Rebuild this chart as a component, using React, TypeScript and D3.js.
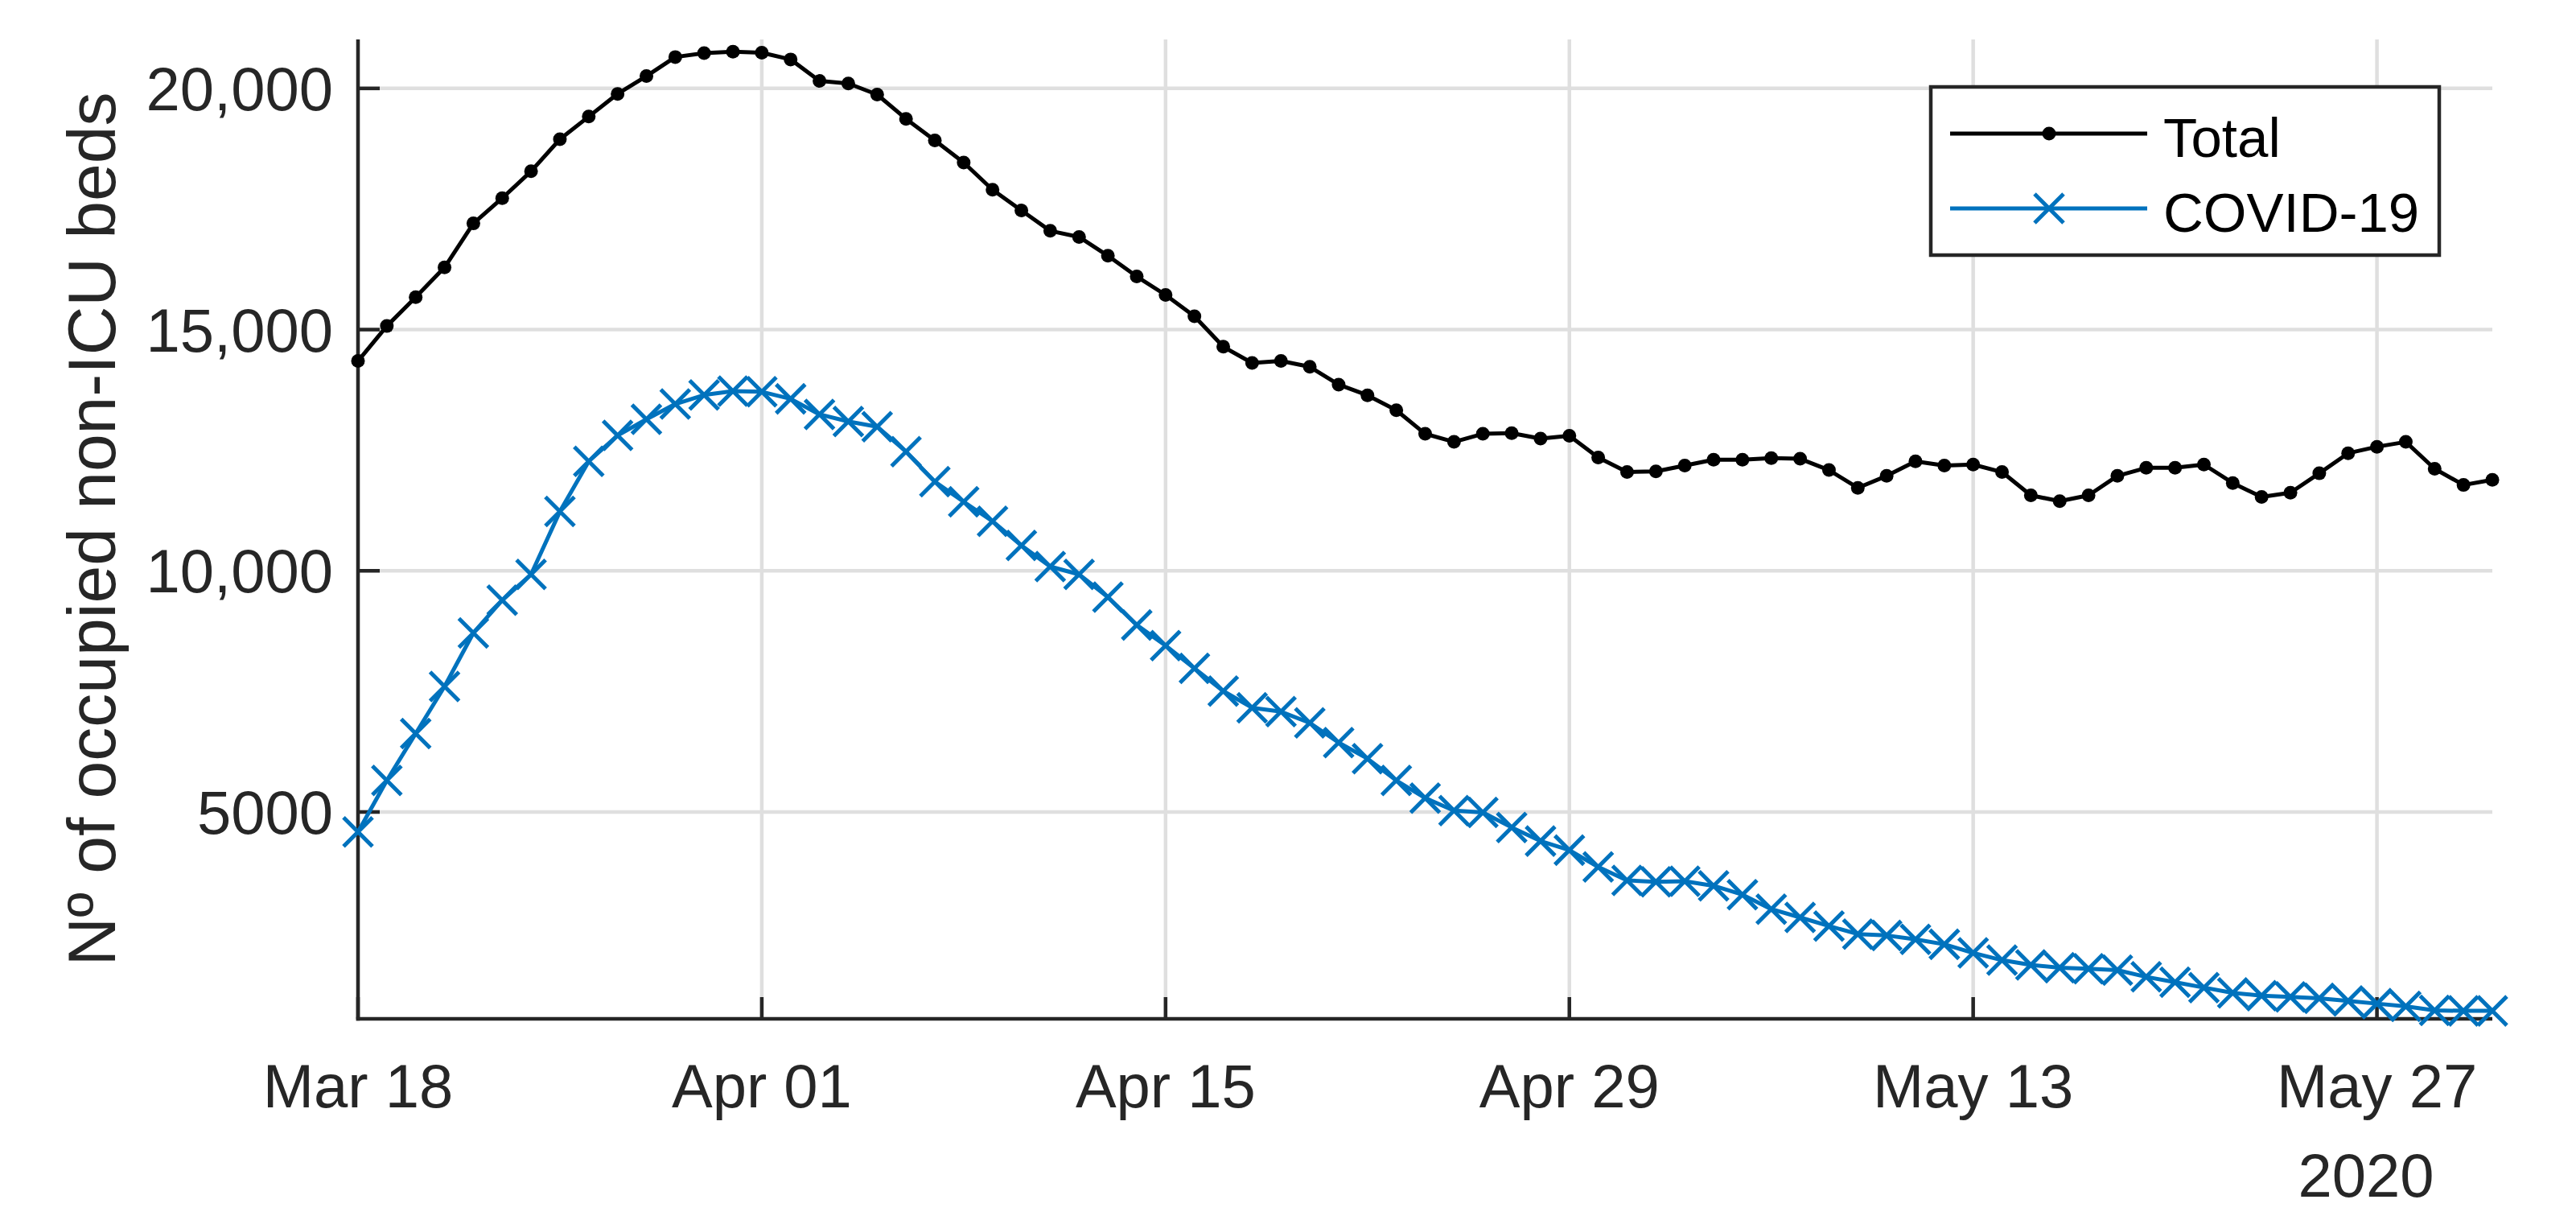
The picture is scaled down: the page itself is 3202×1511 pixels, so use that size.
import React from "react";
import * as d3 from "d3";

const startDate = "2020-03-18";
const endDate = "2020-05-31";

const totalBeds = [
  14349, 15074, 15671, 16289, 17201, 17725, 18282, 18946, 19416, 19886,
  20255, 20650, 20730, 20760, 20740, 20600, 20154, 20101, 19872, 19369,
  18920, 18463, 17899, 17470, 17047, 16920, 16530, 16101, 15718, 15275,
  14645, 14309, 14349, 14229, 13859, 13638, 13329, 12839, 12672, 12839,
  12853, 12739, 12799, 12350, 12047, 12060, 12182, 12302, 12302, 12336,
  12322, 12088, 11719, 11967, 12269, 12180, 12202, 12047, 11564, 11443,
  11564, 11967, 12135, 12135, 12202, 11819, 11531, 11618, 12021, 12437,
  12571, 12672, 12115, 11779, 11886,
];

const covidBeds = [
  4586, 5654, 6627, 7601, 8712, 9391, 9925, 11229, 12269, 12806,
  13141, 13457, 13645, 13725, 13711, 13564, 13242, 13094, 12987, 12470,
  11846, 11430, 11027, 10524, 10088, 9925, 9454, 8876, 8449, 7978,
  7506, 7161, 7079, 6847, 6439, 6106, 5654, 5289, 5030, 4990,
  4680, 4397, 4209, 3860, 3581, 3554, 3565, 3470, 3287, 2986,
  2814, 2636, 2469, 2441, 2358, 2257, 2079, 1929, 1829, 1770,
  1750, 1721, 1582, 1471, 1360, 1249, 1193, 1166, 1138, 1082,
  1027, 971, 888, 877, 877,
];

const xTickDates = ["2020-03-18", "2020-04-01", "2020-04-15", "2020-04-29", "2020-05-13", "2020-05-27"];
const xTickLabels = ["Mar 18", "Apr 01", "Apr 15", "Apr 29", "May 13", "May 27"];
const yTicks = [5000, 10000, 15000, 20000];
const yTickLabels = ["5000", "10,000", "15,000", "20,000"];
const yDomain = [712, 21015];
const seriesNames = ["Total", "COVID-19"];
const yearLabel = "2020";
const yAxisLabel = "Nº of occupied non-ICU beds";

const W = 3202;
const H = 1511;
const left = 445;
const right = 3098;
const top = 49;
const bottom = 1266;

const AX = "#262626";
const GRID = "#dfdfdf";
const BLUE = "#0072BD";
const FONT = "'Liberation Sans', Arial, Helvetica, sans-serif";
const LW = 5;

export default function App() {
  const parse = d3.utcParse("%Y-%m-%d");
  const dates = d3.utcDay.range(parse(startDate)!, d3.utcDay.offset(parse(endDate)!, 1));
  const x = d3.scaleUtc().domain([parse(startDate)!, parse(endDate)!]).range([left, right]);
  const y = d3.scaleLinear().domain(yDomain).range([bottom, top]);

  const line = d3
    .line<number>()
    .x((_, i) => x(dates[i]))
    .y((v) => y(v));

  const xt = xTickDates.map((s) => parse(s)!);
  const tickLen = 27;
  const xs = 18;

  return (
    <svg
      width={W}
      height={H}
      style={{ position: "absolute", left: 0, top: 0, display: "block", background: "#fff" }}
      fontFamily={FONT}
    >
      <rect x={0} y={0} width={W} height={H} fill="#fff" />
      {/* grid */}
      {xt.map((d, i) => (
        <line key={"gx" + i} x1={x(d)} x2={x(d)} y1={top} y2={bottom} stroke={GRID} strokeWidth={4.5} />
      ))}
      {yTicks.map((v, i) => (
        <line key={"gy" + i} x1={left} x2={right} y1={y(v)} y2={y(v)} stroke={GRID} strokeWidth={4.5} />
      ))}
      {/* axes */}
      <line x1={left} x2={left} y1={top} y2={bottom + 2.25} stroke={AX} strokeWidth={4.5} />
      <line x1={left - 2.25} x2={right} y1={bottom} y2={bottom} stroke={AX} strokeWidth={4.5} />
      {xt.map((d, i) => (
        <line key={"tx" + i} x1={x(d)} x2={x(d)} y1={bottom} y2={bottom - tickLen} stroke={AX} strokeWidth={4.5} />
      ))}
      {yTicks.map((v, i) => (
        <line key={"ty" + i} x1={left} x2={left + tickLen} y1={y(v)} y2={y(v)} stroke={AX} strokeWidth={4.5} />
      ))}
      {/* tick labels */}
      {xt.map((d, i) => (
        <text key={"lx" + i} x={x(d)} y={1376} textAnchor="middle" fontSize={76} fill={AX}>
          {xTickLabels[i]}
        </text>
      ))}
      <text x={2941} y={1487} textAnchor="middle" fontSize={76} fill={AX}>
        {yearLabel}
      </text>
      {yTicks.map((v, i) => (
        <text key={"ly" + i} x={414} y={y(v) + 27} textAnchor="end" fontSize={76} fill={AX}>
          {yTickLabels[i]}
        </text>
      ))}
      <text
        transform={`translate(143, ${(top + bottom) / 2}) rotate(-90)`}
        textAnchor="middle"
        fontSize={84}
        fill={AX}
      >
        {yAxisLabel}
      </text>
      {/* series */}
      <path d={line(totalBeds) || ""} fill="none" stroke="#000" strokeWidth={LW} strokeLinejoin="round" />
      {totalBeds.map((v, i) => (
        <circle key={"td" + i} cx={x(dates[i])} cy={y(v)} r={8.5} fill="#000" />
      ))}
      <path d={line(covidBeds) || ""} fill="none" stroke={BLUE} strokeWidth={LW} strokeLinejoin="round" />
      {covidBeds.map((v, i) => {
        const cx = x(dates[i]);
        const cy = y(v);
        return (
          <path
            key={"cx" + i}
            d={`M${cx - xs},${cy - xs}L${cx + xs},${cy + xs}M${cx - xs},${cy + xs}L${cx + xs},${cy - xs}`}
            stroke={BLUE}
            strokeWidth={LW}
            fill="none"
          />
        );
      })}
      {/* legend */}
      <rect x={2400} y={108} width={632} height={209} fill="#fff" stroke={AX} strokeWidth={4.5} />
      <line x1={2424} x2={2669} y1={166} y2={166} stroke="#000" strokeWidth={LW} />
      <circle cx={2547} cy={166} r={8.5} fill="#000" />
      <text x={2689} y={195} fontSize={69} fill="#000">
        {seriesNames[0]}
      </text>
      <line x1={2424} x2={2669} y1={259} y2={259} stroke={BLUE} strokeWidth={LW} />
      <path
        d={`M${2547 - xs},${259 - xs}L${2547 + xs},${259 + xs}M${2547 - xs},${259 + xs}L${2547 + xs},${259 - xs}`}
        stroke={BLUE}
        strokeWidth={LW}
        fill="none"
      />
      <text x={2689} y={288} fontSize={69} fill="#000">
        {seriesNames[1]}
      </text>
    </svg>
  );
}
